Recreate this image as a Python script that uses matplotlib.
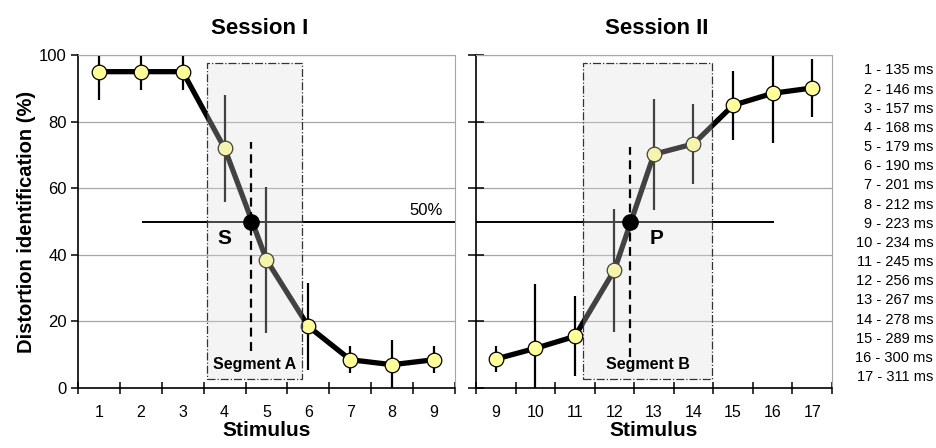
import numpy as np
import matplotlib
matplotlib.use("Agg")
import matplotlib.pyplot as plt
from matplotlib.patches import Rectangle

plt.rcParams['font.family'] = ['Liberation Sans', 'DejaVu Sans']

# Session I
stim1 = [1, 2, 3, 4, 5, 6, 7, 8, 9]
ident1 = [95, 95, 95, 72, 38.5, 18.5, 8.5, 7, 8.5]
err1 = [8.5, 5.5, 5.5, 16, 22, 13, 4, 7.5, 4]
cross1 = 4.62
seg1 = (3.58, 5.85)

# Session II
stim2 = [9, 10, 11, 12, 13, 14, 15, 16, 17]
ident2 = [8.7, 11.9, 15.5, 35.4, 70.2, 73.3, 84.9, 88.5, 90.1]
err2 = [4, 19.3, 12, 18.5, 16.6, 12, 10.3, 15, 8.8]
cross2 = 12.4
seg2 = (11.21, 14.48)

durations = [135, 146, 157, 168, 179, 190, 201, 212, 223,
             234, 245, 256, 267, 278, 289, 300, 311]


def panel(ax, x, y, e, cross, seg, seg_label, letter, letter_x, half_from, half_to,
          dash_top, dash_bot, first):
    x = np.asarray(x, dtype=float)
    lo = x[0] - 0.5
    hi = x[-1] + 0.5
    ax.set_xlim(lo, hi)
    ax.set_ylim(0, 100)

    for g in [20, 40, 60, 80, 100]:
        ax.axhline(g, color='#a6a6a6', lw=0.9, zorder=0)

    ax.plot([half_from, half_to], [50, 50], color='black', lw=1.4, zorder=1)
    ax.errorbar(x, y, yerr=e, fmt='none', ecolor='black', elinewidth=1.6, zorder=2)
    ax.plot(x, y, color='black', lw=3.8, zorder=3)
    ax.plot(x, y, 'o', ms=10.5, mfc='#ffff99', mec='black', mew=0.9, zorder=4)

    # translucent segment box dims everything below it
    box = Rectangle((seg[0], 2.7), seg[1] - seg[0], 95, facecolor='#dcdcdc',
                    alpha=0.3, edgecolor='none', zorder=5)
    ax.add_patch(box)
    edge = Rectangle((seg[0], 2.7), seg[1] - seg[0], 95, fill=False,
                     edgecolor='#333333', lw=0.9, ls='-.', zorder=6)
    ax.add_patch(edge)

    ax.plot([cross, cross], [dash_bot, dash_top], color='black', lw=1.6,
            ls=(0, (4, 2.5)), zorder=6)
    ax.plot([cross], [50], 'o', ms=11, color='black', zorder=7)

    ax.text((seg[0] + seg[1]) / 2, 7, seg_label, ha='center', va='center',
            fontsize=11.5, fontweight='bold', zorder=8)
    ax.text(letter_x, 45, letter, ha='center', va='center', fontsize=15,
            fontweight='bold', zorder=8)

    for s in ['top', 'right']:
        ax.spines[s].set_color('#a6a6a6')
    ax.spines['left'].set_linewidth(1.2)
    ax.spines['bottom'].set_linewidth(1.2)

    ax.set_xticks(np.arange(lo, hi + 0.01, 1.0))
    ax.set_xticklabels([])
    ax.set_xticks(x, minor=True)
    ax.set_xticklabels([str(int(v)) for v in x], minor=True, fontsize=11.5)
    ax.tick_params(axis='x', which='major', direction='inout', length=9, width=1.1)
    ax.tick_params(axis='x', which='minor', length=0, pad=12)
    ax.set_yticks([0, 20, 40, 60, 80, 100])
    if first:
        ax.tick_params(axis='y', direction='out', length=5, width=1.1, pad=3,
                       labelsize=12)
    else:
        ax.set_yticklabels([])
        ax.tick_params(axis='y', direction='inout', length=11, width=1.1)
    ax.set_xlabel('Stimulus', fontsize=15, fontweight='bold', labelpad=1)


def main():
    fig = plt.figure(figsize=(9.36, 4.48), dpi=100)
    ax1 = fig.add_axes([0.0833, 0.1339, 0.4028, 0.7433])
    ax2 = fig.add_axes([0.5085, 0.1339, 0.3803, 0.7433])

    panel(ax1, stim1, ident1, err1, cross1, seg1, 'Segment A', 'S', 4.0,
          2.05, 9.5, 74, 11, True)
    panel(ax2, stim2, ident2, err2, cross2, seg2, 'Segment B', 'P', 13.06,
          8.5, 16.02, 72.4, 9.4, False)

    ax1.text(8.82, 53.4, '50%', ha='center', va='center', fontsize=12)

    ax1.set_title('Session I', fontsize=16, fontweight='bold', pad=15, x=0.483)
    ax2.set_title('Session II', fontsize=16, fontweight='bold', pad=15, x=0.508)
    ax1.set_ylabel('Distortion identification (%)', fontsize=14.5,
                   fontweight='bold', labelpad=2)

    for i, d in enumerate(durations):
        fig.text(0.997, 0.843 - i * 0.0428, f'{i + 1} - {d} ms', ha='right',
                 va='center', fontsize=10.5)

    fig.savefig('out.png', dpi=100)


if __name__ == "__main__":
    main()
